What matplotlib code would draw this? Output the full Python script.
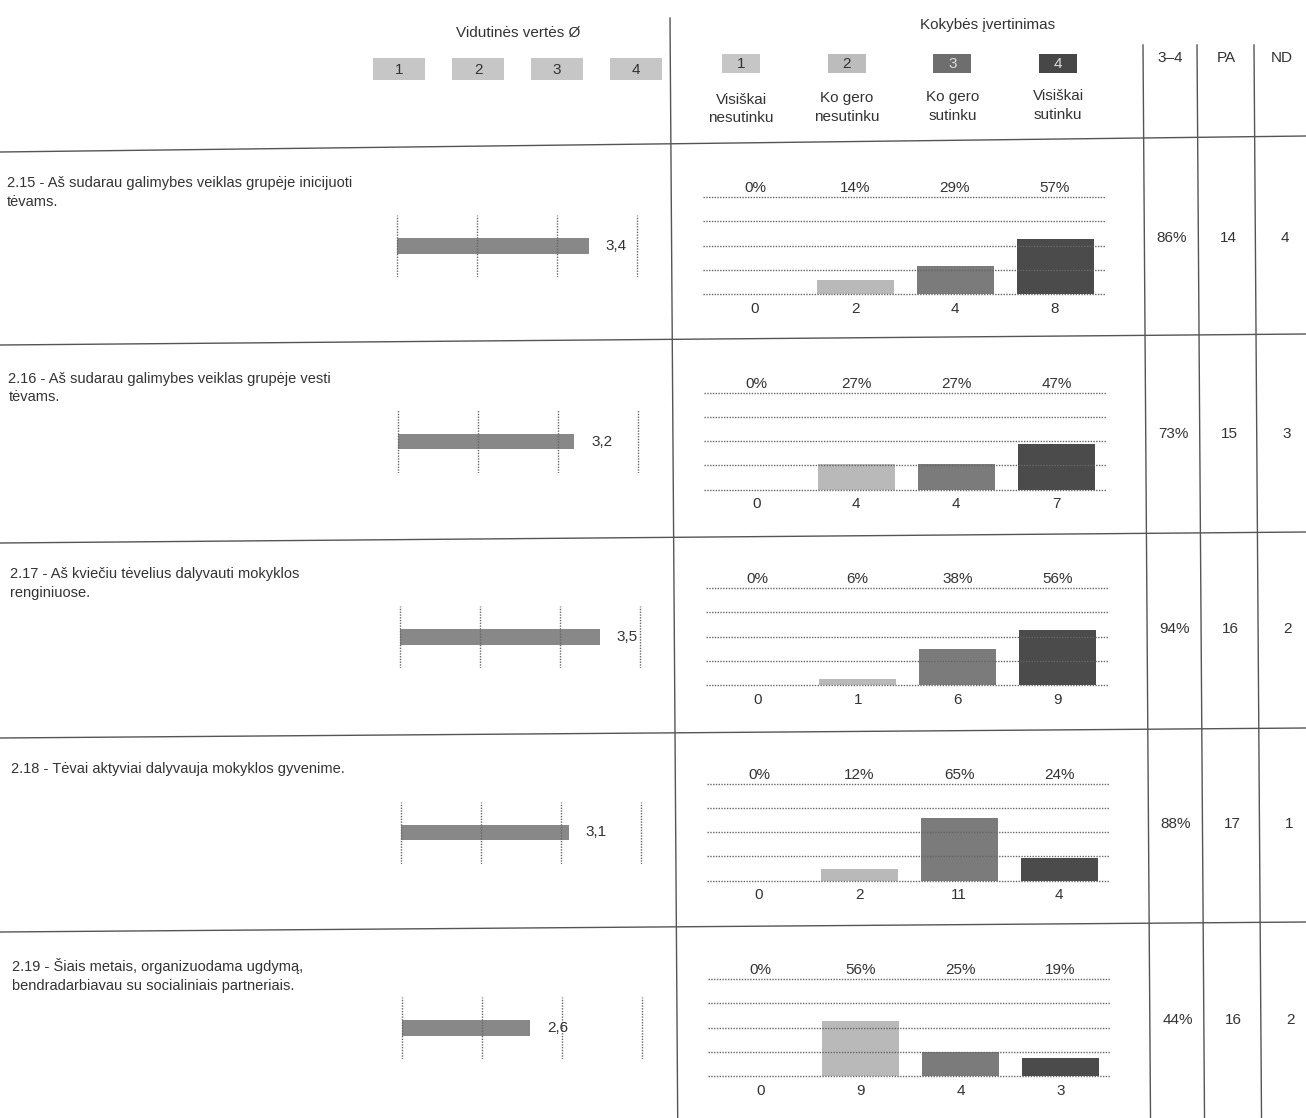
import numpy as np
import matplotlib
matplotlib.use('Agg')
import matplotlib.pyplot as plt
from matplotlib.lines import Line2D

plt.rcParams['font.family'] = ['Liberation Sans', 'DejaVu Sans']

# ---- data ----
questions = ['2.15 - Aš sudarau galimybes veiklas grupėje inicijuoti\ntėvams.',
             '2.16 - Aš sudarau galimybes veiklas grupėje vesti\ntėvams.',
             '2.17 - Aš kviečiu tėvelius dalyvauti mokyklos\nrenginiuose.',
             '2.18 - Tėvai aktyviai dalyvauja mokyklos gyvenime.',
             '2.19 - Šiais metais, organizuodama ugdymą,\nbendradarbiavau su socialiniais partneriais.']
means = [3.4, 3.2, 3.5, 3.1, 2.6]
counts = [[0, 2, 4, 8],
          [0, 4, 4, 7],
          [0, 1, 6, 9],
          [0, 2, 11, 4],
          [0, 9, 4, 3]]
pcts = [[0, 14, 29, 57],
        [0, 27, 27, 47],
        [0, 6, 38, 56],
        [0, 12, 65, 24],
        [0, 56, 25, 19]]
agree_34 = [86, 73, 94, 88, 44]
pa = [14, 15, 16, 17, 16]
nd = [4, 3, 2, 1, 2]
scale_labels = ['1', '2', '3', '4']
answer_labels = ['Visiškai\nnesutinku', 'Ko gero\nnesutinku', 'Ko gero\nsutinku', 'Visiškai\nsutinku']

bar_cols = ['#c9c9c9', '#b9b9b9', '#7b7b7b', '#4b4b4b']
mean_col = '#888888'
txt = '#333333'
line_col = '#555555'

W, H = 1306, 1118
fig = plt.figure(figsize=(W / 100, H / 100), dpi=100)
fig.patch.set_facecolor('white')


def px_axes(x0, y0, x1, y1):
    # pixel box (top-left origin) -> axes
    ax = fig.add_axes([x0 / W, 1 - y1 / H, (x1 - x0) / W, (y1 - y0) / H])
    ax.axis('off')
    return ax


def ftext(x, y, s, **kw):
    kw.setdefault('color', txt)
    kw.setdefault('fontsize', 11)
    fig.text(x / W, 1 - y / H, s, **kw)


def fline(x0, y0, x1, y1, **kw):
    fig.add_artist(Line2D([x0 / W, x1 / W], [1 - y0 / H, 1 - y1 / H],
                          transform=fig.transFigure, color=line_col, lw=1, **kw))


skew = 0.007  # scan is slightly rotated

# ---- header ----
ftext(518, 33, 'Vidutinės vertės Ø', ha='center', va='center', fontsize=11)
ax = px_axes(356, 58, 670, 80)
ax.bar([1, 2, 3, 4], [1] * 4, width=0.66, color='#c6c6c6')
ax.set_xlim(0.45, 4.43)
ax.set_ylim(0, 1)
for i, lab in enumerate(scale_labels):
    ax.text(i + 1, 0.45, lab, ha='center', va='center', fontsize=11, color=txt)

ftext(988, 25, 'Kokybės įvertinimas', ha='center', va='center', fontsize=11)
ax = px_axes(688, 54, 1111, 73)
ax.bar([0, 1, 2, 3], [1] * 4, width=0.36, color=['#c6c6c6', '#bcbcbc', '#6e6e6e', '#474747'])
ax.set_xlim(-0.5, 3.5)
ax.set_ylim(0, 1)
for i, lab in enumerate(scale_labels):
    ax.text(i, 0.45, lab, ha='center', va='center', fontsize=11,
            color=txt if i < 2 else '#dddddd')
for i, lab in enumerate(answer_labels):
    ftext(741 + i * 105.7, 109 - i * 1.3, lab, ha='center', va='center',
          fontsize=11, linespacing=1.45)

for x, lab in zip([1170, 1226, 1282], ['3–4', 'PA', 'ND']):
    ftext(x, 58, lab, ha='center', va='center', fontsize=11)

# ---- grid lines of the table ----
fline(670, 18, 670 + skew * 1100, 1118)
for x in [1143, 1197, 1254]:
    fline(x, 45, x + skew * 1073, 1118)
for yl, yr in [(152, 136), (345, 334), (543, 532), (738, 728), (932, 922)]:
    fline(0, yl, W, yr)

# ---- rows ----
for r in range(5):
    cy = 246 + r * 195.5
    dx = (cy - 246) * skew

    ftext(7 + dx, cy - 70, questions[r], ha='left', va='top', fontsize=10.5,
          linespacing=1.45)

    # mean value bar, scale 1..4
    ax = px_axes(392 + dx, cy - 31, 642 + dx, cy + 31)
    ax.vlines([1, 2, 3, 4], 0, 1, colors='#666666', linestyles=(0, (1, 1)), lw=1)
    ax.barh(0.5, means[r] - 1, left=1, height=0.25, color=mean_col)
    ax.set_xlim(1 - 5 / 80, 4 + 5 / 80)
    ax.set_ylim(0, 1)
    ax.annotate(('%.1f' % means[r]).replace('.', ','), (means[r], 0.5),
                xytext=(12, 0), textcoords='offset points', ha='left',
                va='center', fontsize=11, color=txt)

    # answer distribution, y axis up to number of respondents
    ax = px_axes(703 + dx, cy - 49, 1105 + dx, cy + 48)
    ax.hlines(np.linspace(0, pa[r], 5), -0.52, 3.5, colors='#666666',
              linestyles=(0, (1, 1)), lw=1, clip_on=False)
    ax.bar(range(4), counts[r], width=0.77, color=bar_cols)
    ax.set_xlim(-0.52, 3.5)
    ax.set_ylim(0, pa[r])
    for i in range(4):
        ax.text(i, 1.02, '%d%%' % pcts[r][i], transform=ax.get_xaxis_transform(),
                ha='center', va='bottom', fontsize=11, color=txt)
        ax.text(i, -0.08, str(counts[r][i]), transform=ax.get_xaxis_transform(),
                ha='center', va='top', fontsize=11, color=txt)

    ftext(1172 + dx, cy - 8, '%d%%' % agree_34[r], ha='center', va='center', fontsize=11)
    ftext(1228 + dx, cy - 8, str(pa[r]), ha='center', va='center', fontsize=11)
    ftext(1285 + dx, cy - 8, str(nd[r]), ha='center', va='center', fontsize=11)

fig.savefig('out.png', dpi=100, facecolor='white')
